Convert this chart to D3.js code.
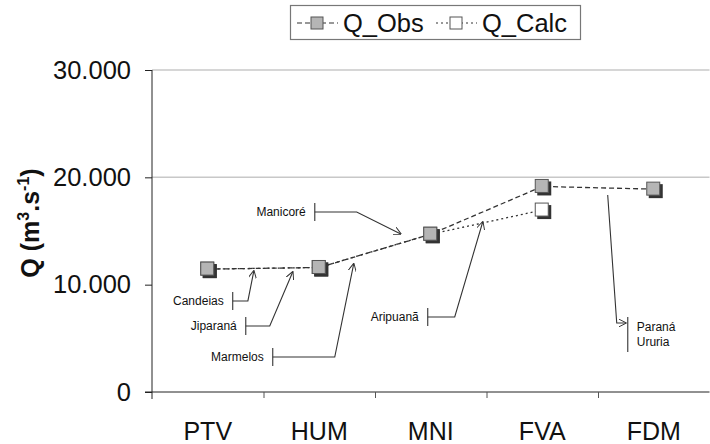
<!DOCTYPE html>
<html>
<head>
<meta charset="utf-8">
<script src="https://cdn.jsdelivr.net/npm/d3@7"></script>
<style>
  body { margin: 0; background: #fff; }
  text { font-family: "Liberation Sans", Arial, sans-serif; fill: #111; }
</style>
</head>
<body>
<svg width="710" height="444"></svg>
<script>
const stations = ['PTV', 'HUM', 'MNI', 'FVA', 'FDM'];
const qObs = [11450, 11600, 14700, 19150, 18900];
const qCalc = [11450, 11600, 14700, 16950, null];
const yTicks = [0, 10000, 20000, 30000];
const gridValues = [20000, 30000];

// leaders: bracket at (bx, bv), elbow end hx, arrow tip (tx, tv); x in station index units
const notes = [
  { label: ['Candeias'], bx: 0.224, bv: 8480, hx: 0.36, tx: 0.413, tv: 11270 },
  { label: ['Jiparaná'], bx: 0.341, bv: 6150, hx: 0.556, tx: 0.762, tv: 11180 },
  { label: ['Marmelos'], bx: 0.583, bv: 3260, hx: 1.139, tx: 1.309, tv: 11930 },
  { label: ['Manicoré'], bx: 0.960, bv: 16770, hx: 1.336, tx: 1.731, tv: 14720 },
  { label: ['Aripuanã'], bx: 1.973, bv: 6990, hx: 2.215, tx: 2.466, tv: 15840 }
];
const paranaNote = { label: ['Paraná', 'Ururia'], sx: 3.587, sv: 18350, ex: 3.668, ev: 6430, tx: 3.749, bx: 3.767, bv: 5400 };

const svg = d3.select('svg');
const pLeft = 152, pRight = 709.5, pTop = 70, pBottom = 392;

const x = d3.scaleLinear().domain([-0.5, stations.length - 0.5]).range([pLeft, pRight]);
const y = d3.scaleLinear().domain([0, 30000]).range([pBottom, pTop]);
const fmt = v => d3.format(',')(v).replace(/,/g, '.');

svg.append('defs').append('marker')
  .attr('id', 'arr')
  .attr('viewBox', '0 0 10 10')
  .attr('refX', 9).attr('refY', 5)
  .attr('markerWidth', 8).attr('markerHeight', 8)
  .attr('markerUnits', 'userSpaceOnUse')
  .attr('orient', 'auto')
  .append('path')
  .attr('d', 'M0,0 L10,5 L0,10')
  .attr('fill', 'none').attr('stroke', '#333').attr('stroke-width', 1.2);

// grid
svg.append('g').selectAll('line').data(gridValues).join('line')
  .attr('x1', pLeft).attr('x2', pRight)
  .attr('y1', d => y(d)).attr('y2', d => y(d))
  .attr('stroke', '#c8c8c8').attr('stroke-width', 1.5);

// y axis
const yAxis = svg.append('g').attr('transform', `translate(${pLeft},0)`)
  .call(d3.axisLeft(y).tickValues(yTicks).tickFormat(fmt).tickSize(7).tickPadding(14));
yAxis.select('.domain').attr('d', `M0,${pTop}V${pBottom + 7}`).attr('stroke', '#222');
yAxis.selectAll('.tick line').attr('stroke', '#222');
yAxis.selectAll('.tick text').attr('font-size', 25.5).attr('fill', '#111')
  .attr('font-family', '"Liberation Sans", Arial, sans-serif');

// x axis with ticks between categories
const bounds = d3.range(1, stations.length).map(i => i - 0.5);
const xAxis = svg.append('g').attr('transform', `translate(0,${pBottom})`)
  .call(d3.axisBottom(x).tickValues(bounds).tickFormat('').tickSize(6));
xAxis.select('.domain').attr('d', `M${pLeft - 7},0H${pRight}`).attr('stroke', '#222');
xAxis.selectAll('.tick line').attr('stroke', '#555');
svg.append('g').selectAll('text').data(stations).join('text')
  .attr('x', (d, i) => x(i)).attr('y', 440)
  .attr('text-anchor', 'middle').attr('font-size', 25)
  .text(d => d);

// y title
const yt = svg.append('text')
  .attr('transform', 'translate(39,223) rotate(-90)')
  .attr('text-anchor', 'middle').attr('font-size', 25).attr('font-weight', 'bold');
yt.append('tspan').text('Q (m');
yt.append('tspan').attr('font-size', 16).attr('dy', -10).text('3');
yt.append('tspan').attr('dy', 10).text('.s');
yt.append('tspan').attr('font-size', 16).attr('dy', -10).text('-1');
yt.append('tspan').attr('dy', 10).text(')');

// annotations
const ann = svg.append('g').attr('stroke', '#333').attr('stroke-width', 1.1).attr('fill', 'none');
notes.forEach(n => {
  const bx = x(n.bx), by = y(n.bv);
  ann.append('line').attr('x1', bx).attr('x2', bx).attr('y1', by - 9).attr('y2', by + 9);
  ann.append('path')
    .attr('d', d3.line()([[bx, by], [x(n.hx), by], [x(n.tx), y(n.tv)]]))
    .attr('marker-end', 'url(#arr)');
  svg.append('text').attr('x', bx - 9).attr('y', by + 4)
    .attr('text-anchor', 'end').attr('font-size', 12).attr('fill', '#222')
    .text(n.label[0]);
});
{
  const n = paranaNote;
  const by = y(n.bv), bx = x(n.bx);
  ann.append('path')
    .attr('d', d3.line()([[x(n.sx), y(n.sv)], [x(n.ex), y(n.ev)], [x(n.tx), y(n.ev)]]))
    .attr('marker-end', 'url(#arr)');
  ann.append('line').attr('x1', bx).attr('x2', bx).attr('y1', by - 17).attr('y2', by + 18);
  svg.append('g').selectAll('text').data(n.label).join('text')
    .attr('x', bx + 9).attr('y', (d, i) => by - 3 + i * 15)
    .attr('font-size', 12).attr('fill', '#222').text(d => d);
}

// series
const line = d3.line().defined(d => d != null).x((d, i) => x(i)).y(d => y(d));
function drawSeries(vals, dash, fill) {
  svg.append('path').datum(vals)
    .attr('d', line)
    .attr('fill', 'none').attr('stroke', '#333').attr('stroke-width', 1.3)
    .attr('stroke-dasharray', dash);
  const pts = vals.map((v, i) => ({ v, i })).filter(d => d.v != null);
  const g = svg.append('g');
  g.selectAll('.sh').data(pts).join('rect')
    .attr('x', d => x(d.i) - 5).attr('y', d => y(d.v) - 5)
    .attr('width', 14).attr('height', 14).attr('fill', '#333');
  g.selectAll('.mk').data(pts).join('rect')
    .attr('x', d => x(d.i) - 7).attr('y', d => y(d.v) - 7)
    .attr('width', 13).attr('height', 13)
    .attr('fill', fill).attr('stroke', '#555').attr('stroke-width', 1);
}
drawSeries(qCalc, '2,3', '#fff');
drawSeries(qObs, '5,3', '#b5b5b5');

// legend
const lg = svg.append('g');
lg.append('rect').attr('x', 290.5).attr('y', 5.5).attr('width', 290).attr('height', 34)
  .attr('fill', '#fff').attr('stroke', '#777').attr('stroke-width', 1.2);
const items = [
  { name: 'Q_Obs', dash: '5,3', fill: '#b5b5b5', x0: 297 },
  { name: 'Q_Calc', dash: '2,3', fill: '#fff', x0: 436 }
];
items.forEach(it => {
  lg.append('line').attr('x1', it.x0).attr('x2', it.x0 + 41).attr('y1', 23).attr('y2', 23)
    .attr('stroke', '#333').attr('stroke-width', 1.2).attr('stroke-dasharray', it.dash);
  lg.append('rect').attr('x', it.x0 + 14).attr('y', 17).attr('width', 12).attr('height', 12)
    .attr('fill', it.fill).attr('stroke', '#555');
  lg.append('text').attr('x', it.x0 + 46).attr('y', 32).attr('font-size', 25.5).text(it.name);
});
</script>
</body>
</html>
